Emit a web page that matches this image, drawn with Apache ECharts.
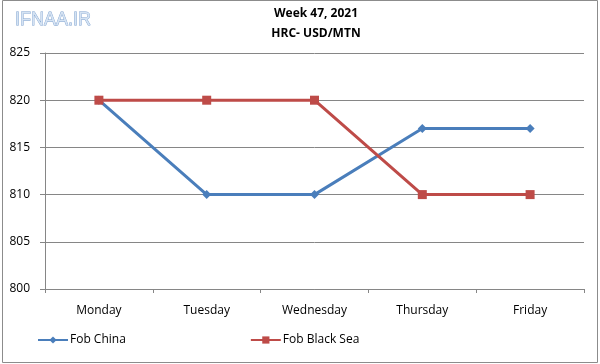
<!DOCTYPE html>
<html><head><meta charset="utf-8">
<script src="https://cdn.jsdelivr.net/npm/echarts@6/dist/echarts.min.js"></script>
<style>html,body{margin:0;padding:0;background:#fff}#c{width:600px;height:364px}</style>
</head><body><div id="c"></div>
<script>
const categories = ['Monday','Tuesday','Wednesday','Thursday','Friday'];
const fobChina = [820, 810, 810, 817, 817];
const fobBlackSea = [820, 820, 820, 810, 810];
const yTicks = [800, 805, 810, 815, 820, 825];
const titleLines = ['Week 47, 2021', 'HRC- USD/MTN'];
const logoText = 'IFNAA.IR';

const chart = echarts.init(document.getElementById('c'), null, {renderer:'canvas'});
const font = 'Open Sans, Noto Sans, sans-serif';
chart.setOption({
  animation:false,
  backgroundColor:'#fff',
  graphic:[
    {type:'rect', shape:{x:2.5,y:0.5,width:595,height:362}, style:{fill:'none', stroke:'#8c8c8c', lineWidth:1}, silent:true},
    {type:'text', x:15, y:11, style:{text:logoText, font:'18px Liberation Sans, sans-serif', fill:'#d5e3f3', stroke:'#7fa2cf', lineWidth:0.8}},
    {type:'text', x:316, y:8, style:{text:titleLines[0], font:'bold 12px '+font, fill:'#000', textAlign:'center'}},
    {type:'text', x:316, y:28, style:{text:titleLines[1], font:'bold 12px '+font, fill:'#000', textAlign:'center'}}
  ],
  grid:{left:45, right:16, top:53, bottom:75},
  legend:{
    left:32, top:329, itemWidth:30, itemHeight:9, itemGap:124,
    textStyle:{fontFamily:font, fontSize:12, color:'#000', padding:[0,0,0,-3]},
    data:['Fob China','Fob Black Sea']
  },
  xAxis:{
    type:'category', data:categories, boundaryGap:true,
    axisLine:{lineStyle:{color:'#868686'}},
    axisTick:{show:true, length:4, lineStyle:{color:'#868686'}},
    axisLabel:{fontFamily:font, fontSize:12, color:'#000', margin:16}
  },
  yAxis:{
    type:'value', min:800, max:825, interval:5,
    axisLine:{show:true, lineStyle:{color:'#868686'}},
    axisTick:{show:true, length:5, lineStyle:{color:'#868686'}},
    splitLine:{lineStyle:{color:'#868686', width:1}},
    axisLabel:{fontFamily:font, fontSize:12, color:'#000', margin:15}
  },
  series:[
    {name:'Fob China', type:'line', data:fobChina, symbol:'diamond', symbolSize:9,
     lineStyle:{color:'#4a7ebb', width:3}, itemStyle:{color:'#4a7ebb'}},
    {name:'Fob Black Sea', type:'line', data:fobBlackSea, symbol:'rect', symbolSize:9,
     lineStyle:{color:'#be4b48', width:3}, itemStyle:{color:'#be4b48'}}
  ]
});
</script></body></html>
